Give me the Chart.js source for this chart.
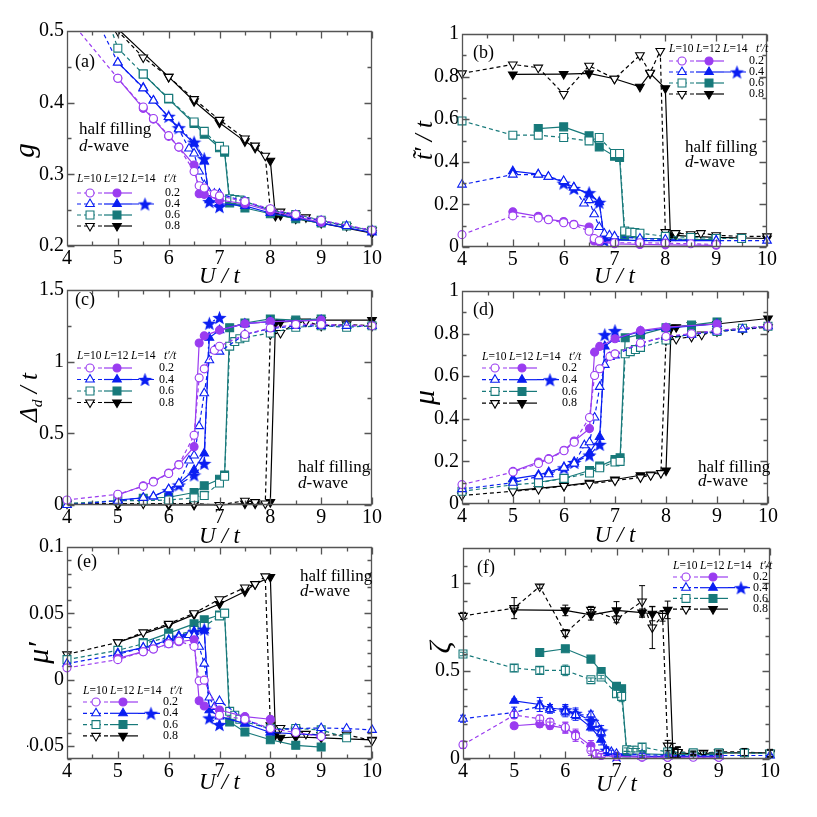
<!DOCTYPE html>
<html>
<head>
<meta charset="utf-8">
<script src="https://cdn.jsdelivr.net/npm/chart.js@4.4.0/dist/chart.umd.min.js"></script>
<style>
  body { margin: 0; background: #fff; }
  #wrap { position: relative; width: 817px; height: 817px; }
  #wrap canvas { position: absolute; left: 0; top: 0; }
</style>
</head>
<body>
<div id="wrap"></div>
<script>
// U/t grids of each (t'/t, L) series
const U_02_10 = [4, 5, 5.5, 5.7, 6, 6.2, 6.5, 6.6, 6.7, 6.9, 7, 7.5, 8, 8.5, 9, 10];
const U_02_12 = [5, 5.5, 5.7, 6, 6.2, 6.5, 6.6, 6.7, 7, 7.5, 8, 9];
const U_04_10 = [4, 5, 5.5, 5.7, 6, 6.2, 6.4, 6.5, 6.6, 6.7, 6.8, 6.9, 7, 7.5, 8, 8.5, 9, 9.5, 10];
const U_04_12 = [5, 5.5, 5.7, 6, 6.2, 6.5, 6.7, 6.8, 7, 7.5, 8, 8.5, 9, 10];
const U_04_14 = [6, 6.2, 6.5, 6.7, 6.8, 7];
const U_06_10 = [4, 5, 5.5, 6, 6.5, 6.7, 7, 7.1, 7.2, 7.3, 7.4, 7.5, 8, 8.5, 9, 9.5, 10];
const U_06_12 = [5.5, 6, 6.5, 6.7, 7, 7.1, 7.2, 7.5, 8, 8.5, 9];
const U_08_10 = [4, 5, 5.5, 6, 6.5, 7, 7.5, 7.7, 7.9, 8, 8.2, 8.5, 8.7, 9, 9.5, 10];
const U_08_12 = [5, 6, 6.5, 7, 7.5, 7.7, 8, 8.1, 8.2, 8.5, 9, 10];

// (a) g
const g_02_10 = [0.52, 0.434, 0.394, 0.378, 0.354, 0.338, 0.304, 0.284, 0.281, 0.273, 0.27, 0.262, 0.252, 0.244, 0.236, 0.222];
const g_02_12 = [0.434, 0.392, 0.377, 0.353, 0.338, 0.313, 0.273, 0.272, 0.264, 0.259, 0.249, 0.233];
const g_04_10 = [0.6, 0.456, 0.42, 0.403, 0.38, 0.363, 0.336, 0.329, 0.304, 0.285, 0.274, 0.273, 0.273, 0.262, 0.25, 0.243, 0.235, 0.228, 0.222];
const g_04_12 = [0.456, 0.421, 0.403, 0.38, 0.364, 0.343, 0.318, 0.264, 0.259, 0.256, 0.246, 0.24, 0.232, 0.219];
const g_04_14 = [0.381, 0.365, 0.345, 0.322, 0.262, 0.255];
const g_06_10 = [0.68, 0.476, 0.44, 0.406, 0.373, 0.36, 0.339, 0.334, 0.266, 0.265, 0.264, 0.262, 0.25, 0.244, 0.236, 0.228, 0.222];
const g_06_12 = [0.44, 0.405, 0.371, 0.356, 0.337, 0.331, 0.26, 0.253, 0.245, 0.238, 0.232];
const g_08_10 = [0.57, 0.5, 0.463, 0.436, 0.405, 0.376, 0.35, 0.34, 0.326, 0.25, 0.248, 0.243, 0.24, 0.235, 0.228, 0.222];
const g_08_12 = [0.503, 0.436, 0.402, 0.372, 0.346, 0.337, 0.319, 0.242, 0.243, 0.238, 0.232, 0.218];

// (b) t~'/t
const tt_02_10 = [0.058, 0.146, 0.136, 0.128, 0.114, 0.105, 0.074, 0.04, 0.03, null, 0.02, 0.02, 0.018, 0.015, 0.012, null];
const tt_02_12 = [0.165, 0.144, 0.13, 0.12, 0.107, 0.094, 0.028, 0.025, 0.015, 0.012, 0.01, 0.008];
const tt_04_10 = [0.293, 0.34, 0.34, 0.33, 0.31, 0.28, 0.204, 0.22, 0.154, 0.094, 0.063, 0.055, 0.05, 0.04, 0.035, null, 0.03, null, 0.03];
const tt_04_12 = [0.356, 0.342, 0.329, 0.306, 0.279, 0.248, 0.21, 0.04, 0.035, 0.03, 0.03, null, 0.03, null];
const tt_04_14 = [0.3, 0.275, 0.255, 0.21, 0.03, 0.03];
const tt_06_10 = [0.592, 0.525, 0.525, 0.514, 0.498, 0.514, 0.439, 0.439, 0.075, 0.07, 0.068, 0.065, 0.05, 0.045, 0.04, 0.04, null];
const tt_06_12 = [0.556, 0.564, 0.522, 0.47, 0.426, 0.42, 0.05, 0.04, 0.04, 0.035, 0.035];
const tt_08_10 = [0.815, 0.857, 0.842, 0.718, 0.851, 0.79, 0.9, 0.818, 0.92, 0.07, 0.065, 0.06, 0.065, 0.055, 0.05, 0.05];
const tt_08_12 = [0.81, 0.812, 0.815, 0.79, 0.752, 0.815, 0.745, 0.05, 0.055, 0.05, 0.045, 0.04];

// (c) Delta_d/t
const d_02_10 = [0.035, 0.075, 0.13, 0.16, 0.22, 0.28, 0.487, 0.887, 0.95, 1.08, 1.108, 1.19, 1.235, 1.26, 1.26, 1.25];
const d_02_12 = [0.07, 0.134, 0.165, 0.223, 0.282, 0.407, 1.13, 1.18, 1.22, 1.265, 1.28, 1.29];
const d_04_10 = [0.0, 0.03, 0.05, 0.06, 0.11, 0.15, 0.31, 0.345, 0.55, 0.78, 1.01, 1.08, 1.07, 1.19, 1.23, 1.25, 1.25, 1.25, 1.25];
const d_04_12 = [0.035, 0.05, 0.06, 0.11, 0.15, 0.245, 0.36, 1.167, 1.22, 1.265, 1.28, null, 1.29, null];
const d_04_14 = [0.1, 0.14, 0.21, 0.29, 1.268, 1.308];
const d_06_10 = [0.01, 0.03, 0.03, 0.035, 0.05, 0.066, 0.153, 0.2, 1.108, 1.14, 1.16, 1.17, 1.2, 1.24, 1.25, 1.24, 1.25];
const d_06_12 = [0.047, 0.054, 0.087, 0.134, 0.18, 0.21, 1.237, 1.27, 1.298, 1.29, 1.298];
const d_08_10 = [0.01, 0.01, 0.01, 0.01, 0.01, 0.0, 0.03, 0.02, 0.01, 1.19, 1.2, 1.27, 1.28, 1.25, 1.26, 1.25];
const d_08_12 = [0.0, 0.0, 0.0, 0.0, 0.01, 0.01, 0.02, 1.268, 1.276, 1.285, 1.29, 1.29];

// (d) mu
const mu_02_10 = [0.091, 0.15, 0.19, 0.21, 0.25, 0.29, 0.406, 0.603, 0.635, 0.693, 0.705, 0.756, 0.787, 0.8, 0.815, 0.835];
const mu_02_12 = [0.153, 0.197, 0.213, 0.252, 0.296, 0.354, 0.713, 0.74, 0.776, 0.814, 0.83, 0.845];
const mu_04_10 = [0.07, 0.1, 0.13, 0.14, 0.17, 0.19, 0.276, 0.29, 0.406, 0.55, 0.653, 0.69, 0.698, 0.755, 0.785, 0.795, 0.81, 0.82, 0.835];
const mu_04_12 = [0.118, 0.137, 0.15, 0.173, 0.197, 0.24, 0.315, 0.74, 0.776, 0.81, 0.825, null, 0.845, null];
const mu_04_14 = [0.17, 0.195, 0.23, 0.28, 0.795, 0.814];
const mu_06_10 = [0.06, 0.09, 0.1, 0.12, 0.145, 0.17, 0.197, 0.2, 0.705, 0.715, 0.725, 0.735, 0.77, 0.8, 0.81, 0.825, 0.835];
const mu_06_12 = [0.102, 0.121, 0.157, 0.178, 0.209, 0.217, 0.78, 0.795, 0.827, 0.84, 0.855];
const mu_08_10 = [0.04, 0.06, 0.07, 0.085, 0.095, 0.11, 0.125, 0.135, 0.145, 0.768, 0.775, 0.785, 0.795, 0.81, 0.82, 0.83];
const mu_08_12 = [0.063, 0.085, 0.1, 0.115, 0.135, 0.138, 0.157, 0.827, 0.83, 0.84, 0.845, 0.871];

// (e) mu'
const mp_02_10 = [0.0088, 0.015, 0.021, 0.023, 0.027, 0.029, 0.025, -0.001, -0.0005, null, -0.027, -0.03, -0.037, -0.04, -0.043, null];
const mp_02_12 = [0.016, 0.021, 0.023, 0.027, 0.0285, 0.03, -0.016, -0.02, -0.023, -0.028, -0.03, null];
const mp_04_10 = [0.012, 0.019, 0.024, 0.026, 0.029, 0.032, 0.0336, 0.033, 0.0247, 0.012, -0.0136, -0.0207, -0.0162, -0.03, -0.038, -0.037, -0.0366, -0.037, -0.038];
const mp_04_12 = [0.02, 0.024, 0.026, 0.03, 0.033, 0.036, 0.037, -0.0232, -0.0278, -0.0333, -0.04, null, -0.042, null];
const mp_04_14 = [0.029, 0.032, 0.036, 0.038, -0.029, -0.034];
const mp_06_10 = [0.015, 0.022, 0.027, 0.032, 0.037, 0.04, 0.048, 0.05, -0.024, -0.027, -0.03, -0.032, -0.037, -0.037, -0.038, -0.044, null];
const mp_06_12 = [0.028, 0.035, 0.042, 0.045, 0.0487, 0.05, -0.032, -0.0396, -0.0455, -0.0497, -0.051];
const mp_08_10 = [0.019, 0.028, 0.0356, 0.042, 0.05, 0.0606, 0.0694, 0.072, 0.0778, -0.0346, -0.0366, -0.038, -0.041, -0.042, -0.0417, -0.046];
const mp_08_12 = [0.028, 0.041, 0.049, 0.057, 0.0664, 0.072, 0.0773, -0.0417, -0.044, -0.0434, -0.044, -0.0455];

// (f) zeta and its error bars
const z_02_10 = [0.081, 0.25, 0.229, 0.21, 0.18, 0.13, 0.05, 0.03, 0.02, null, 0.015, 0.012, 0.01, 0.01, 0.01, null];
const z_02_12 = [0.189, 0.2, 0.19, 0.176, 0.14, 0.075, 0.03, 0.02, 0.015, 0.01, 0.01, 0.01];
const z_04_10 = [0.229, 0.265, 0.3, 0.28, 0.27, 0.25, null, 0.252, 0.2, 0.15, 0.05, 0.04, 0.03, 0.025, 0.02, null, 0.02, null, 0.02];
const z_04_12 = [0.331, 0.31, 0.29, 0.28, 0.25, 0.18, 0.11, 0.04, 0.02, 0.015, 0.015, null, 0.015, null];
const z_04_14 = [0.28, 0.26, 0.22, 0.16, 0.05, 0.02];
const z_06_10 = [0.597, 0.517, 0.504, 0.504, 0.451, 0.466, 0.371, 0.356, 0.053, 0.05, 0.05, 0.068, 0.04, 0.035, 0.035, 0.035, 0.03];
const z_06_12 = [0.606, 0.627, 0.568, 0.498, 0.413, 0.4, 0.034, 0.03, 0.025, 0.025, 0.025];
const z_08_10 = [0.814, 0.858, 0.981, 0.716, 0.848, 0.795, 0.896, 0.748, 0.814, 0.076, 0.04, 0.035, 0.035, 0.04, 0.04, 0.03];
const z_08_12 = [0.848, 0.845, 0.82, 0.845, 0.833, 0.826, 0.848, 0.049, 0.035, 0.03, 0.035, 0.035];
const ze_02_10 = [0.02, 0.02, 0.02, 0.02, 0.03, 0.03, 0.03, 0.02, 0.01, null, 0.005, 0.005, 0.005, 0.005, 0.005, null];
const ze_02_12 = [0.015, 0.02, 0.02, 0.03, 0.03, 0.03, 0.02, 0.01, 0.005, 0.005, 0.005, 0.005];
const ze_04_10 = [0.02, 0.03, 0.03, 0.02, 0.03, 0.02, null, 0.02, 0.02, 0.02, 0.015, 0.01, 0.005, 0.005, 0.005, null, 0.005, null, 0.005];
const ze_04_12 = [0.01, 0.04, 0.02, 0.03, 0.03, 0.02, 0.03, 0.02, 0.005, 0.005, 0.005, null, 0.005, null];
const ze_04_14 = [0.02, 0.03, 0.02, 0.03, 0.02, 0.01];
const ze_06_10 = [0.01, 0.02, 0.02, 0.03, 0.01, 0.01, 0.02, 0.03, 0.01, 0.01, 0.01, 0.02, 0.01, 0.01, 0.01, 0.02, 0.02];
const ze_06_12 = [0.01, 0.01, 0.01, 0.01, 0.02, 0.01, 0.01, 0.01, 0.01, 0.01, 0.01];
const ze_08_10 = [0.02, 0.06, 0.01, 0.02, 0.02, 0.02, 0.09, 0.12, 0.03, 0.03, 0.03, 0.01, 0.01, 0.01, 0.02, 0.02];
const ze_08_12 = [0.01, 0.03, 0.03, 0.05, 0.02, 0.04, 0.05, 0.04, 0.03, 0.01, 0.01, 0.02];

// tick labels
const xTicks = [4, 5, 6, 7, 8, 9, 10];
const ticksA = [0.2, 0.3, 0.4, 0.5];
const ticksB = [0, 0.2, 0.4, 0.6, 0.8, 1];
const ticksC = [0, 0.5, 1, 1.5];
const ticksD = [0, 0.2, 0.4, 0.6, 0.8, 1];
const ticksE = [-0.05, 0, 0.05, 0.1];
const ticksF = [0, 0.5, 1];
const tPrime = ['0.2', '0.4', '0.6', '0.8'];

const SERIF = '"Liberation Serif", "DejaVu Serif", serif';
const PURPLE = '#9a3cf0', BLUE = '#0a1ef2', TEAL = '#17797a', BLACK = '#000000';

function makeStar(color, size) {
  const c = document.createElement('canvas');
  c.width = c.height = size;
  const x = c.getContext('2d');
  x.fillStyle = color;
  x.beginPath();
  for (let i = 0; i < 10; i++) {
    const r = i % 2 ? size * 0.21 : size * 0.5;
    const a = -Math.PI / 2 + i * Math.PI / 5;
    x.lineTo(size / 2 + r * Math.cos(a), size / 2 + r * Math.sin(a) + size * 0.05);
  }
  x.closePath();
  x.fill();
  return c;
}
const STAR = makeStar(BLUE, 15);

// one entry per (t'/t, L) series, same order as the value lists below
const SERIES = [
  { U: U_02_10, c: PURPLE, m: 'circle', r: 4, open: true, dash: [4, 3] },
  { U: U_02_12, c: PURPLE, m: 'circle', r: 4, open: false, dash: [] },
  { U: U_04_10, c: BLUE, m: 'triangle', r: 5, open: true, dash: [4, 3] },
  { U: U_04_12, c: BLUE, m: 'triangle', r: 5, open: false, dash: [] },
  { U: U_04_14, c: BLUE, m: 'star', r: 6, open: false, dash: [7, 3, 2, 3] },
  { U: U_06_10, c: TEAL, m: 'rect', r: 5.6, open: true, dash: [4, 3] },
  { U: U_06_12, c: TEAL, m: 'rect', r: 5.6, open: false, dash: [] },
  { U: U_08_10, c: BLACK, m: 'triangle', rot: 180, r: 5, open: true, dash: [4, 3] },
  { U: U_08_12, c: BLACK, m: 'triangle', rot: 180, r: 5, open: false, dash: [] }
];

// legend: [x0, header y, first row y, row step, value text offset]
const PANELS = [
  { box: [67, 31, 372, 246], yMin: 0.2, yMax: 0.5, yTicks: ticksA, yMajor: 0.1, yMinor: 0.05,
    vals: [g_02_10, g_02_12, g_04_10, g_04_12, g_04_14, g_06_10, g_06_12, g_08_10, g_08_12],
    yTitle: [['g', 1, 0]], yFs: 29, yCx: 26, yCyOff: 12, xOff: 31, tag: '(a)', tagPos: [75, 62],
    note: [79, 130, 147], legend: [77, 179, 193, 11, 88] },
  { box: [462, 34, 767, 247], yMin: 0, yMax: 1, yTicks: ticksB, yMajor: 0.2, yMinor: 0.1,
    vals: [tt_02_10, tt_02_12, tt_04_10, tt_04_12, tt_04_14, tt_06_10, tt_06_12, tt_08_10, tt_08_12],
    yTitle: [['t\u0303\u2032 / t', 1, 0]], yFs: 25, yCx: 425, yCyOff: 0, xOff: 30, tag: '(b)', tagPos: [473, 53],
    note: [685, 148, 163], legend: [669, 49, 61, 11, 80] },
  { box: [67, 290, 372, 505], yMin: 0, yMax: 1.5, yTicks: ticksC, yMajor: 0.5, yMinor: 0.25,
    vals: [d_02_10, d_02_12, d_04_10, d_04_12, d_04_14, d_06_10, d_06_12, d_08_10, d_08_12],
    yTitle: [['\u0394', 1, 0], ['d', 0.62, 0.3], [' / t', 1, 0]], yFs: 25, yCx: 30, yCyOff: 0, xOff: 32, tag: '(c)', tagPos: [75, 300],
    note: [298, 468, 484], legend: [77, 356, 368, 11.5, 82] },
  { box: [462, 291, 768, 504], yMin: 0, yMax: 1, yTicks: ticksD, yMajor: 0.2, yMinor: 0.1,
    vals: [mu_02_10, mu_02_12, mu_04_10, mu_04_12, mu_04_14, mu_06_10, mu_06_12, mu_08_10, mu_08_12],
    yTitle: [['\u03bc', 1, 0]], yFs: 30, yCx: 426, yCyOff: 0, xOff: 32, tag: '(d)', tagPos: [473, 310],
    note: [698, 468, 482], legend: [482, 357, 368, 11.7, 80] },
  { box: [67, 547, 372, 759], yMin: -0.06, yMax: 0.1, yTicks: ticksE, yMajor: 0.05, yMinor: 0.01,
    vals: [mp_02_10, mp_02_12, mp_04_10, mp_04_12, mp_04_14, mp_06_10, mp_06_12, mp_08_10, mp_08_12],
    yTitle: [['\u03bc\u2032', 1, 0]], yFs: 30, yCx: 40, yCyOff: 0, xOff: 24, tag: '(e)', tagPos: [77, 562],
    note: [300, 577, 592], legend: [83, 691, 702, 11.3, 80] },
  { box: [463, 548, 770, 759], yMin: 0, yMax: 1.2, yTicks: ticksF, yMajor: 0.5, yMinor: 0.1,
    vals: [z_02_10, z_02_12, z_04_10, z_04_12, z_04_14, z_06_10, z_06_12, z_08_10, z_08_12],
    errs: [ze_02_10, ze_02_12, ze_04_10, ze_04_12, ze_04_14, ze_06_10, ze_06_12, ze_08_10, ze_08_12],
    yTitle: [['\u03b6', 1, 0]], yFs: 30, yCx: 442, yCyOff: -6, xOff: 26, tag: '(f)', tagPos: [477, 568],
    note: null, legend: [673, 566, 577, 10.7, 80] }
];

function drawMarker(ctx, s, x, y) {
  ctx.save();
  ctx.setLineDash([]);
  if (s.m === 'star') {
    ctx.drawImage(STAR, x - STAR.width / 2, y - STAR.height / 2);
    ctx.restore();
    return;
  }
  ctx.fillStyle = s.open ? '#fff' : s.c;
  ctx.strokeStyle = s.c;
  ctx.lineWidth = 1.1;
  ctx.beginPath();
  const r = s.r;
  if (s.m === 'circle') {
    ctx.arc(x, y, r, 0, Math.PI * 2);
  } else if (s.m === 'rect') {
    const h = r * Math.SQRT1_2;
    ctx.rect(x - h, y - h, 2 * h, 2 * h);
  } else {
    const d = s.rot ? -1 : 1;
    ctx.moveTo(x, y - d * r);
    ctx.lineTo(x + r * 0.866, y + d * r * 0.5);
    ctx.lineTo(x - r * 0.866, y + d * r * 0.5);
    ctx.closePath();
  }
  ctx.fill();
  ctx.stroke();
  ctx.restore();
}

// pieces: [text, italic]
function drawRich(ctx, pieces, x, y, size) {
  let cx = x;
  pieces.forEach(([t, it]) => {
    ctx.font = (it ? 'italic ' : '') + size + 'px ' + SERIF;
    ctx.fillText(t, cx, y);
    cx += ctx.measureText(t).width;
  });
}

function drawLegend(ctx, lg) {
  const [x0, hy, ry, dy, tx] = lg;
  ctx.save();
  ctx.fillStyle = '#000';
  ctx.textBaseline = 'middle';
  drawRich(ctx, [['L', 1], ['=10', 0]], x0, hy, 11.5);
  drawRich(ctx, [['L', 1], ['=12', 0]], x0 + 27, hy, 11.5);
  drawRich(ctx, [['L', 1], ['=14', 0]], x0 + 54, hy, 11.5);
  drawRich(ctx, [['t\u2032/t', 1]], x0 + 87, hy, 11.5);
  const groups = [[0, 1], [2, 3, 4], [5, 6], [7, 8]];
  const segA = [0, 27, 55], segB = [27, 55, 78], mk = [13, 40, 68];
  groups.forEach((g, row) => {
    const yy = ry + row * dy;
    g.forEach((k, n) => {
      const s = SERIES[k];
      ctx.strokeStyle = s.c;
      ctx.lineWidth = 1.2;
      ctx.setLineDash(s.dash);
      ctx.beginPath();
      ctx.moveTo(x0 + segA[n], yy);
      ctx.lineTo(x0 + segB[n], yy);
      ctx.stroke();
      ctx.setLineDash([]);
    });
    g.forEach((k, n) => drawMarker(ctx, SERIES[k], x0 + mk[n], yy));
    ctx.fillStyle = '#000';
    ctx.font = '12px ' + SERIF;
    ctx.fillText(tPrime[row], x0 + (g.length === 3 ? Math.max(tx, 78) : tx), yy);
  });
  ctx.restore();
}

function decorPlugin(P) {
  return {
    id: 'decor',
    afterDatasetsDraw(chart) {
      const { ctx, chartArea: a, scales: { y } } = chart;
      if (P.zeroLine) {
        const py = Math.round(y.getPixelForValue(0)) + 0.5;
        ctx.save();
        ctx.strokeStyle = '#000';
        ctx.lineWidth = 1.1;
        ctx.setLineDash([4, 3]);
        ctx.beginPath();
        ctx.moveTo(a.left, py);
        ctx.lineTo(a.right, py);
        ctx.stroke();
        ctx.restore();
      }
      if (!P.errs) return;
      chart.data.datasets.forEach((ds, i) => {
        const meta = chart.getDatasetMeta(i);
        ds.data.forEach((p, j) => {
          if (!p.e) return;
          const el = meta.data[j];
          const y1 = y.getPixelForValue(p.y - p.e), y2 = y.getPixelForValue(p.y + p.e);
          ctx.save();
          ctx.strokeStyle = ds.borderColor;
          ctx.lineWidth = 1;
          ctx.beginPath();
          ctx.moveTo(el.x, y1); ctx.lineTo(el.x, y2);
          ctx.moveTo(el.x - 3, y1); ctx.lineTo(el.x + 3, y1);
          ctx.moveTo(el.x - 3, y2); ctx.lineTo(el.x + 3, y2);
          ctx.stroke();
          ctx.restore();
        });
      });
    },
    afterDraw(chart) {
      const { ctx, chartArea: a, scales: { x, y } } = chart;
      ctx.save();
      ctx.setLineDash([]);
      // frame with inward ticks on all four sides
      const L = Math.round(a.left) + 0.5, R = Math.round(a.right) - 0.5;
      const T = Math.round(a.top) + 0.5, B = Math.round(a.bottom) - 0.5;
      ctx.strokeStyle = '#555';
      ctx.lineWidth = 1.3;
      ctx.beginPath();
      ctx.moveTo(L, T); ctx.lineTo(R, T); ctx.lineTo(R, B); ctx.lineTo(L, B); ctx.closePath();
      for (let v = 4; v <= 10.001; v += 0.5) {
        const px = Math.round(x.getPixelForValue(v)) + 0.5;
        const len = Math.abs(v - Math.round(v)) < 1e-6 ? 7 : 4;
        ctx.moveTo(px, B); ctx.lineTo(px, B - len);
        ctx.moveTo(px, T); ctx.lineTo(px, T + len);
      }
      const n0 = Math.ceil(P.yMin / P.yMinor - 1e-6), n1 = Math.floor(P.yMax / P.yMinor + 1e-6);
      for (let n = n0; n <= n1; n++) {
        const v = n * P.yMinor;
        const py = Math.round(y.getPixelForValue(v)) + 0.5;
        const q = v / P.yMajor;
        const len = Math.abs(q - Math.round(q)) < 1e-6 ? 7 : 4;
        ctx.moveTo(L, py); ctx.lineTo(L + len, py);
        ctx.moveTo(R, py); ctx.lineTo(R - len, py);
      }
      ctx.stroke();

      ctx.fillStyle = '#000';
      ctx.textBaseline = 'middle';
      // x title
      ctx.textAlign = 'center';
      ctx.font = 'italic 23px ' + SERIF;
      ctx.fillText('U / t', (a.left + a.right) / 2, a.bottom + P.xOff);
      ctx.textAlign = 'left';

      // y title, rotated
      const cy = (a.top + a.bottom) / 2 + P.yCyOff;
      ctx.translate(P.yCx, cy);
      ctx.rotate(-Math.PI / 2);
      let w = 0;
      P.yTitle.forEach(([t, s]) => { ctx.font = 'italic ' + (P.yFs * s) + 'px ' + SERIF; w += ctx.measureText(t).width; });
      let cx = -w / 2;
      P.yTitle.forEach(([t, s, dy]) => {
        ctx.font = 'italic ' + (P.yFs * s) + 'px ' + SERIF;
        ctx.fillText(t, cx, dy * P.yFs);
        cx += ctx.measureText(t).width;
      });
      ctx.setTransform(1, 0, 0, 1, 0, 0);

      // panel tag and notes
      ctx.font = '18px ' + SERIF;
      ctx.fillText(P.tag, P.tagPos[0], P.tagPos[1]);
      if (P.note) {
        ctx.font = '17px ' + SERIF;
        ctx.fillText('half filling', P.note[0], P.note[1]);
        drawRich(ctx, [['d', 1], ['-wave', 0]], P.note[0], P.note[2], 17);
      }
      ctx.restore();
      drawLegend(ctx, P.legend);
    }
  };
}

function buildDatasets(P) {
  return SERIES.map((s, k) => {
    const pts = [];
    s.U.forEach((u, i) => {
      const v = P.vals[k][i];
      if (v !== null && v !== undefined) pts.push({ x: u, y: v, e: P.errs ? P.errs[k][i] : null });
    });
    return {
      data: pts,
      showLine: true,
      borderColor: s.c,
      borderWidth: 1.2,
      borderDash: s.dash,
      pointStyle: s.m === 'star' ? STAR : s.m,
      rotation: s.rot || 0,
      pointRadius: s.r,
      pointBorderWidth: 1.1,
      pointBorderColor: s.c,
      pointBackgroundColor: s.open ? '#fff' : s.c,
      clip: { left: 8, right: 8, top: 0, bottom: 8 }
    };
  });
}

const W = 817, H = 817, YW = 40, XH = 30;
const wrap = document.getElementById('wrap');
PANELS.forEach(P => {
  const cv = document.createElement('canvas');
  cv.width = W; cv.height = H;
  wrap.appendChild(cv);
  const [l, t, r, b] = P.box;
  new Chart(cv.getContext('2d'), {
    type: 'scatter',
    data: { datasets: buildDatasets(P) },
    options: {
      responsive: false,
      animation: false,
      events: [],
      layout: { padding: { left: l - YW, top: t, right: W - r, bottom: H - b - XH } },
      plugins: { legend: { display: false }, tooltip: { enabled: false } },
      scales: {
        x: {
          type: 'linear', min: 4, max: 10,
          afterBuildTicks: s => { s.ticks = xTicks.map(v => ({ value: v })); },
          afterFit: s => { s.height = XH; },
          grid: { display: false, drawTicks: false },
          border: { display: false },
          ticks: { autoSkip: false, maxRotation: 0, padding: 1, color: '#000',
                   font: { family: SERIF, size: 20 }, callback: v => String(v) }
        },
        y: {
          type: 'linear', min: P.yMin, max: P.yMax,
          afterBuildTicks: s => { s.ticks = P.yTicks.map(v => ({ value: v })); },
          afterFit: s => { s.width = YW; },
          grid: { display: false, drawTicks: false },
          border: { display: false },
          ticks: { autoSkip: false, padding: 3, color: '#000',
                   font: { family: SERIF, size: 20 }, callback: v => String(+v.toFixed(3)) }
        }
      }
    },
    plugins: [decorPlugin(P)]
  });
});
</script>
</body>
</html>
